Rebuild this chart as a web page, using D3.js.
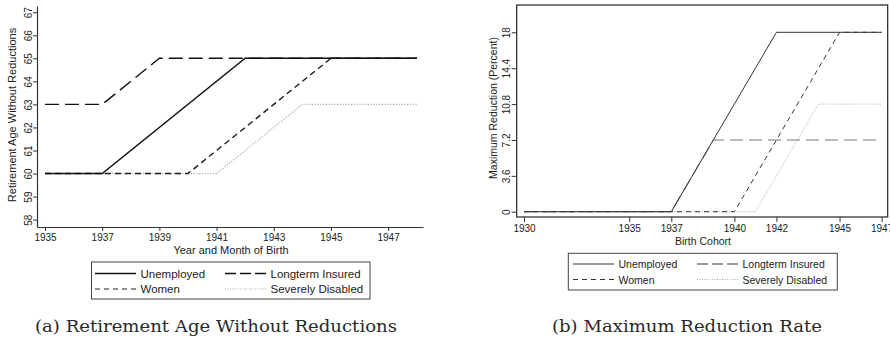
<!DOCTYPE html>
<html><head><meta charset="utf-8">
<script src="https://cdn.jsdelivr.net/npm/d3@7"></script>
<style>
body{margin:0;background:#fff}
svg{display:block}
text{font-family:"Liberation Sans",Arial,Helvetica,sans-serif;fill:#222}
.caption{font-family:"DejaVu Serif","Liberation Serif",serif;fill:#2a2a2a;font-weight:300}
</style>
</head><body>
<svg id="chart" width="890" height="342"></svg>
<script>
const seriesNames = ["Unemployed", "Longterm Insured", "Women", "Severely Disabled"];

// (a) retirement age without reductions, by year of birth
const ageUnemployed = [[1935, 60], [1937, 60], [1942, 65], [1948, 65]];
const ageLongterm   = [[1935, 63], [1937, 63], [1939, 65], [1948, 65]];
const ageWomen      = [[1935, 60], [1940, 60], [1945, 65], [1948, 65]];
const ageDisabled   = [[1935, 60], [1941, 60], [1944, 63], [1948, 63]];
const ageXTicks = [1935, 1937, 1939, 1941, 1943, 1945, 1947];
const ageYTicks = [58, 59, 60, 61, 62, 63, 64, 65, 66, 67];

// (b) maximum reduction rate, by birth cohort
const redUnemployed = [[1930, 0], [1937, 0], [1942, 18], [1947, 18]];
const redLongterm   = [[1930, 0], [1937, 0], [1939, 7.2], [1947, 7.2]];
const redWomen      = [[1930, 0], [1940, 0], [1945, 18], [1947, 18]];
const redDisabled   = [[1930, 0], [1941, 0], [1944, 10.8], [1947, 10.8]];
const redXTicks = [1930, 1935, 1937, 1940, 1942, 1945, 1947];
const redYTicks = [0, 3.6, 7.2, 10.8, 14.4, 18];

const svg = d3.select("#chart");

function drawPanel(p) {
  const g = svg.append("g");
  const x = d3.scaleLinear().domain(p.xDomain).range([p.left, p.right]);
  const y = d3.scaleLinear().domain(p.yDomain).range([p.bottom, p.top]);

  if (p.frame) {
    g.append("rect")
      .attr("x", p.left).attr("y", p.top)
      .attr("width", p.right - p.left).attr("height", p.bottom - p.top)
      .attr("fill", "none").attr("stroke", "#222").attr("stroke-width", 1.2);
  }

  // axes
  const xAxis = g.append("g").attr("transform", `translate(0,${p.bottom})`)
    .call(d3.axisBottom(x).tickValues(p.xTicks).tickFormat(d3.format("d"))
      .tickSize(p.tickLen).tickSizeOuter(0).tickPadding(p.xPad));
  const yAxis = g.append("g").attr("transform", `translate(${p.left},0)`)
    .call(d3.axisLeft(y).tickValues(p.yTicks).tickFormat(d => String(d))
      .tickSize(p.tickLen).tickSizeOuter(0));
  [xAxis, yAxis].forEach(a => {
    a.select(".domain").attr("stroke", p.frame ? "none" : "#333").attr("stroke-width", 1.2);
    a.selectAll(".tick line").attr("stroke", "#333");
    a.selectAll("text").attr("font-size", 10).attr("fill", "#222")
      .attr("font-family", '"Liberation Sans",Arial,sans-serif');
  });
  // vertical tick labels on the y axis
  yAxis.selectAll(".tick text")
    .attr("transform", "rotate(-90)")
    .attr("x", 0).attr("y", -(p.tickLen + p.yPad)).attr("dy", 0)
    .attr("text-anchor", "middle");

  // axis titles
  g.append("text")
    .attr("transform", `translate(${p.yTitleX},${p.yTitleY}) rotate(-90)`)
    .attr("text-anchor", "middle").attr("dominant-baseline", "central")
    .attr("font-size", p.titleSize).text(p.yTitle);
  g.append("text")
    .attr("x", p.xTitleX).attr("y", p.xTitleY)
    .attr("text-anchor", "middle").attr("dominant-baseline", "central")
    .attr("font-size", p.titleSize).text(p.xTitle);

  // series, drawn so that the solid line ends up on top
  const line = d3.line().x(d => x(d[0])).y(d => y(d[1]));
  [3, 2, 1, 0].forEach(i => {
    const s = p.styles[i];
    g.append("path").datum(p.series[i])
      .attr("d", line).attr("fill", "none")
      .attr("stroke", s.stroke).attr("stroke-width", s.w)
      .attr("stroke-dasharray", s.dash);
  });

  // legend
  const L = p.legend;
  g.append("rect").attr("x", L.x).attr("y", L.y).attr("width", L.w).attr("height", L.h)
    .attr("fill", "#fff").attr("stroke", "#444").attr("stroke-width", 1);
  seriesNames.forEach((name, i) => {
    const col = i % 2, row = Math.floor(i / 2);
    const cx = L.cols[col], ry = L.rows[row];
    const s = L.styles[i];
    g.append("line").attr("x1", cx).attr("x2", cx + L.sample)
      .attr("y1", ry).attr("y2", ry)
      .attr("stroke", s.stroke).attr("stroke-width", s.w).attr("stroke-dasharray", s.dash);
    g.append("text").attr("x", cx + L.sample + L.gap).attr("y", ry)
      .attr("dominant-baseline", "central").attr("font-size", L.size).text(name);
  });

  // caption
  g.append("text").attr("class", "caption")
    .attr("x", p.capX).attr("y", p.capY)
    .attr("text-anchor", "middle").attr("dominant-baseline", "central")
    .attr("font-size", 17.5)
    .attr("textLength", p.capWidth).attr("lengthAdjust", "spacingAndGlyphs")
    .text(p.caption);
}

drawPanel({
  left: 37, right: 423, top: 6, bottom: 227,
  xDomain: [1934.72, 1948.22], yDomain: [57.68, 67.27],
  xTicks: ageXTicks, yTicks: ageYTicks, tickLen: 4, xPad: 3, yPad: 1,
  frame: false,
  series: [ageUnemployed, ageLongterm, ageWomen, ageDisabled],
  styles: [
    {stroke: "#111", w: 1.4, dash: null},
    {stroke: "#111", w: 1.4, dash: "14,6"},
    {stroke: "#1a1a1a", w: 1.4, dash: "6,4"},
    {stroke: "#aaa", w: 1.2, dash: "1.2,1.6"}
  ],
  yTitle: "Retirement Age Without Reductions", yTitleX: 12, yTitleY: 115,
  xTitle: "Year and Month of Birth", xTitleX: 231, xTitleY: 250, titleSize: 11,
  legend: {
    x: 91.5, y: 262, w: 278.5, h: 37, rows: [273.5, 289], cols: [95, 225],
    sample: 41, gap: 4.5, size: 11.5,
    styles: [
      {stroke: "#111", w: 1.3, dash: null},
      {stroke: "#111", w: 1.3, dash: "11,4"},
      {stroke: "#222", w: 1.2, dash: "5,4"},
      {stroke: "#aaa", w: 1, dash: "1,1.5"}
    ]
  },
  caption: "(a) Retirement Age Without Reductions", capX: 216, capY: 326, capWidth: 362
});

drawPanel({
  left: 516.7, right: 887.7, top: 5, bottom: 217,
  xDomain: [1929.65, 1947.29], yDomain: [-0.53, 20.74],
  xTicks: redXTicks, yTicks: redYTicks, tickLen: 5, xPad: 3, yPad: 2,
  frame: true,
  series: [redUnemployed, redLongterm, redWomen, redDisabled],
  styles: [
    {stroke: "#333", w: 1, dash: null},
    {stroke: "#777", w: 1.1, dash: "13,6"},
    {stroke: "#333", w: 1, dash: "5,4"},
    {stroke: "#aaa", w: 1, dash: "1,1.5"}
  ],
  yTitle: "Maximum Reduction (Percent)", yTitleX: 493, yTitleY: 108,
  xTitle: "Birth Cohort", xTitleX: 703, xTitleY: 241, titleSize: 10.5,
  legend: {
    x: 568.3, y: 253.3, w: 269, h: 36.7, rows: [264, 279.5], cols: [573, 697],
    sample: 41, gap: 4.5, size: 10.5,
    styles: [
      {stroke: "#333", w: 1, dash: null},
      {stroke: "#333", w: 1.1, dash: "11,4"},
      {stroke: "#333", w: 1, dash: "5,4"},
      {stroke: "#aaa", w: 1, dash: "1,1.5"}
    ]
  },
  caption: "(b) Maximum Reduction Rate", capX: 687, capY: 326, capWidth: 270
});
</script>
</body></html>
